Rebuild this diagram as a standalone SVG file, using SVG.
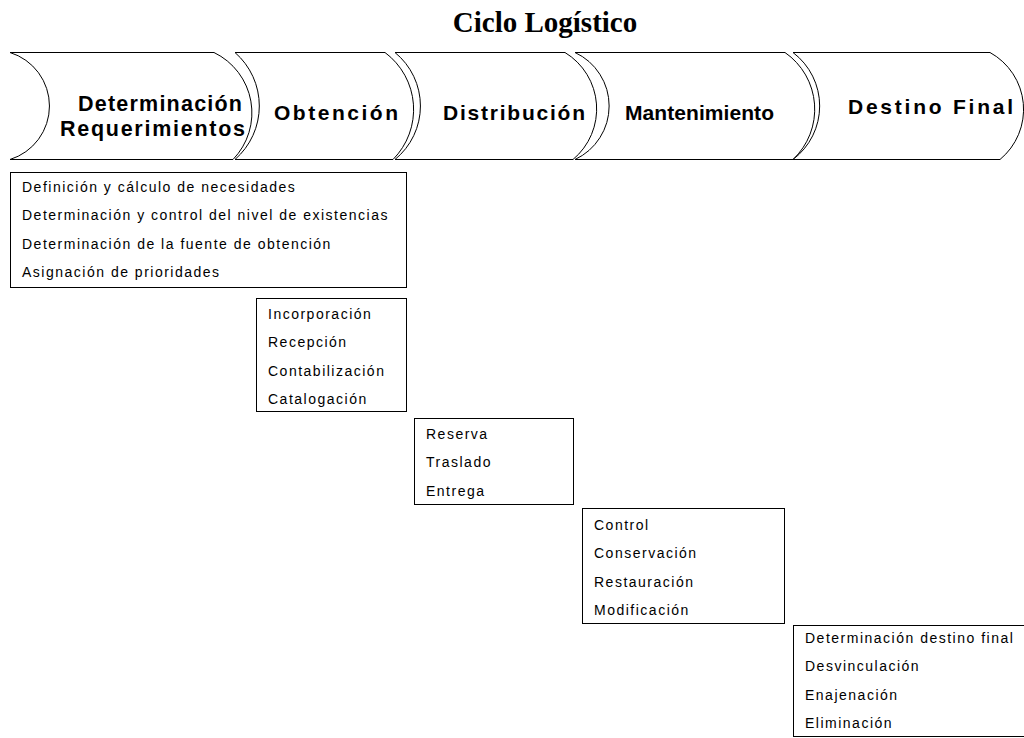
<svg xmlns="http://www.w3.org/2000/svg" width="1024" height="738" viewBox="0 0 1024 738">
<style>
.bg{fill:#fff}
.stage{fill:#fff;stroke:#000;stroke-width:1}
.head{font-family:"Liberation Sans",Arial,sans-serif;font-weight:bold;font-size:21px;fill:#000}
.head.big{font-size:21.5px}
.title{font-family:"Liberation Serif","Times New Roman",serif;font-weight:bold;font-size:29px;fill:#000}
.box{fill:#fff;stroke:#000;stroke-width:1}
.item{font-family:"Liberation Sans",Arial,sans-serif;font-size:14px;letter-spacing:1.5px;fill:#000}
</style>
<rect class="bg" x="0" y="0" width="1024" height="738"/>
<text class="title" x="545" y="32" text-anchor="middle">Ciclo Logístico</text>

<g id="stage-determinacion">
<path class="stage" d="M10 52.5 H214 A67 67 0 0 1 233 159.5 H10 A56 56 0 0 0 10 52.5 Z"/>
<text class="head big" x="78" y="111" textLength="164" lengthAdjust="spacing">Determinación</text>
<text class="head big" x="60" y="135.5" textLength="185" lengthAdjust="spacing">Requerimientos</text>
</g>
<g id="stage-obtencion">
<path class="stage" d="M235 52.5 H385 A71 71 0 0 1 393 159.5 H235 A71 71 0 0 0 235 52.5 Z"/>
<text class="head" x="274" y="120" textLength="124" lengthAdjust="spacing">Obtención</text>
</g>
<g id="stage-distribucion">
<path class="stage" d="M395 52.5 H565 A66 66 0 0 1 573 159.5 H395 A69 69 0 0 0 395 52.5 Z"/>
<text class="head" x="443" y="120" textLength="142" lengthAdjust="spacing">Distribución</text>
</g>
<g id="stage-mantenimiento">
<path class="stage" d="M575 52.5 H785 A69 69 0 0 1 793 159.5 H575 A59 59 0 0 0 575 52.5 Z"/>
<text class="head" x="625" y="120" textLength="149" lengthAdjust="spacing">Mantenimiento</text>
</g>
<g id="stage-destino">
<path class="stage" d="M793 52.5 H990 A65 65 0 0 1 1000 159.5 H793 A67 67 0 0 0 793 52.5 Z"/>
<text class="head" x="848" y="113.5" textLength="165" lengthAdjust="spacing">Destino Final</text>
</g>

<g id="connectors"></g>

<g id="box-determinacion">
<rect class="box" x="10.5" y="172.5" width="396" height="115"/>
<text class="item" x="22" y="191.5">Definición y cálculo de necesidades</text>
<text class="item" x="22" y="220">Determinación y control del nivel de existencias</text>
<text class="item" x="22" y="248.5">Determinación de la fuente de obtención</text>
<text class="item" x="22" y="277">Asignación de prioridades</text>
</g>
<g id="box-obtencion">
<rect class="box" x="256.5" y="298.5" width="150" height="113"/>
<text class="item" x="268" y="318.5">Incorporación</text>
<text class="item" x="268" y="347">Recepción</text>
<text class="item" x="268" y="375.5">Contabilización</text>
<text class="item" x="268" y="404">Catalogación</text>
</g>
<g id="box-distribucion">
<rect class="box" x="414.5" y="418.5" width="159" height="86"/>
<text class="item" x="426" y="438.5">Reserva</text>
<text class="item" x="426" y="467">Traslado</text>
<text class="item" x="426" y="495.5">Entrega</text>
</g>
<g id="box-mantenimiento">
<rect class="box" x="582.5" y="508.5" width="202" height="115"/>
<text class="item" x="594" y="529.5">Control</text>
<text class="item" x="594" y="558">Conservación</text>
<text class="item" x="594" y="586.5">Restauración</text>
<text class="item" x="594" y="615">Modificación</text>
</g>
<g id="box-destino">
<rect class="box" x="793.5" y="625.5" width="240" height="111"/>
<text class="item" x="805" y="642.5">Determinación destino final</text>
<text class="item" x="805" y="671">Desvinculación</text>
<text class="item" x="805" y="699.5">Enajenación</text>
<text class="item" x="805" y="728">Eliminación</text>
</g>
</svg>
